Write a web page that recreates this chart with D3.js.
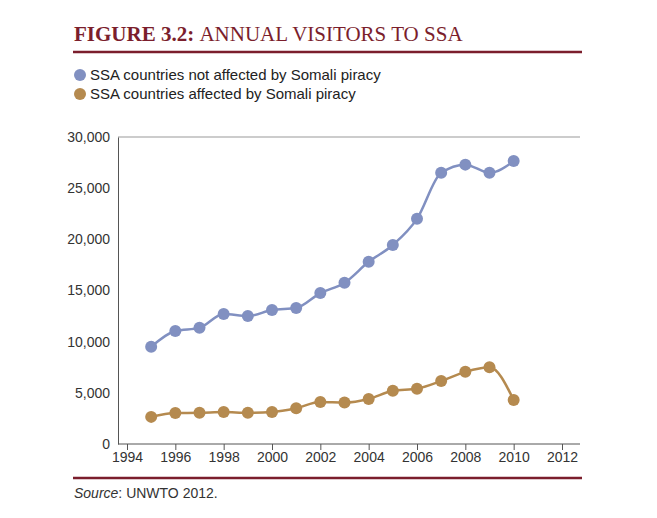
<!DOCTYPE html>
<html><head><meta charset="utf-8">
<script src="https://cdn.jsdelivr.net/npm/d3@7"></script>
<style>body{margin:0;background:#fff}</style>
</head><body><svg></svg>
<script>
const years = [1995,1996,1997,1998,1999,2000,2001,2002,2003,2004,2005,2006,2007,2008,2009,2010];
const notAffected = [9500,11050,11350,12700,12500,13100,13300,14750,15750,17800,19450,22000,26500,27300,26500,27650];
const affected = [2650,3030,3050,3130,3050,3130,3500,4100,4050,4400,5200,5400,6150,7050,7500,4300];
const seriesNames = ['SSA countries not affected by Somali piracy','SSA countries affected by Somali piracy'];
const colors = ['#8190c1','#b58a4f'];
const xTicks = d3.range(1994, 2013, 2);
const yTicks = d3.range(0, 30001, 5000);

const svg = d3.select('svg').attr('width', 657).attr('height', 518);
const font = '"Liberation Sans Narrow", "Arial Narrow", sans-serif';
const red = '#7b1e2c';

// title
const t = svg.append('text').attr('x', 74).attr('y', 41).style('font-family','"Liberation Serif", serif').style('font-size','21px');
t.append('tspan').text('FIGURE 3.2: ').attr('fill', red).style('font-weight','bold');
t.append('tspan').text('ANNUAL VISITORS TO SSA').attr('fill', red).style('font-weight','normal');
svg.append('line').attr('x1',73).attr('x2',582).attr('y1',52).attr('y2',52).attr('stroke',red).attr('stroke-width',2.5);

// legend
seriesNames.forEach((n, i) => {
  svg.append('circle').attr('cx',80).attr('cy',75 + i*19).attr('r',6).attr('fill',colors[i]);
  svg.append('text').attr('x',90).attr('y',80 + i*19).text(n).style('font-family',font).style('font-size','15px').attr('fill','#222');
});

const x = d3.scaleLinear().domain([1994, 2012]).range([127, 562]);
const y = d3.scaleLinear().domain([0, 30000]).range([444, 137]);

svg.append('line').attr('x1',118).attr('x2',580).attr('y1',y(30000)).attr('y2',y(30000)).attr('stroke','#999');
svg.append('line').attr('x1',118).attr('x2',580).attr('y1',y(0)).attr('y2',y(0)).attr('stroke','#555');

const yAxis = svg.append('g').attr('transform','translate(118,0)').call(d3.axisLeft(y).tickValues(yTicks).tickFormat(d3.format(',')).tickSize(0).tickPadding(8));
yAxis.select('.domain').attr('stroke','#555');
const xAxis = svg.append('g').attr('transform',`translate(0,${y(0)})`).call(d3.axisBottom(x).tickValues(xTicks).tickFormat(d3.format('d')).tickSize(6).tickPadding(2));
xAxis.select('.domain').remove();
xAxis.selectAll('line').attr('stroke','#555');
svg.selectAll('.tick text').style('font-family',font).style('font-size','14px').attr('fill','#333');

const line = d3.line().x((d,i) => x(years[i])).y(d => y(d)).curve(d3.curveMonotoneX);
[notAffected, affected].forEach((s, i) => {
  svg.append('path').datum(s).attr('d', line).attr('fill','none').attr('stroke',colors[i]).attr('stroke-width',2.5);
  svg.append('g').selectAll('circle').data(s).join('circle')
    .attr('cx',(d,j) => x(years[j])).attr('cy',d => y(d)).attr('r',6).attr('fill',colors[i]);
});

svg.append('line').attr('x1',73).attr('x2',582).attr('y1',478).attr('y2',478).attr('stroke',red).attr('stroke-width',2.5);
const s = svg.append('text').attr('x',74).attr('y',498).style('font-family',font).style('font-size','14px').attr('fill','#333');
s.append('tspan').text('Source').style('font-style','italic');
s.append('tspan').text(': UNWTO 2012.');
</script></body></html>
